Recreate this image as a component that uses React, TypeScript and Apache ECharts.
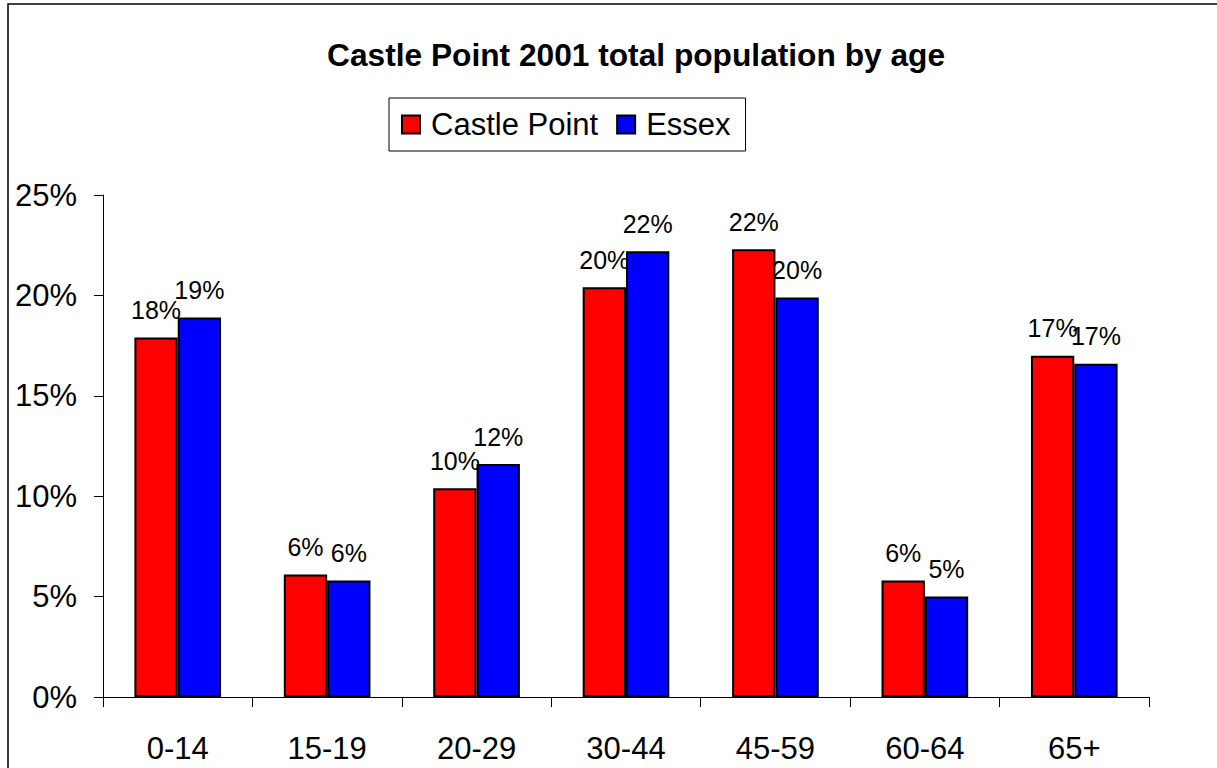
import React, { useEffect, useRef } from "react";
import * as echarts from "echarts";

const categories = ["0-14", "15-19", "20-29", "30-44", "45-59", "60-64", "65+"];
const castlePoint = [17.9, 6.1, 10.4, 20.4, 22.3, 5.8, 17.0];
const essex = [18.9, 5.8, 11.6, 22.2, 19.9, 5.0, 16.6];
const seriesNames = ["Castle Point", "Essex"];
const seriesColors = ["#ff0000", "#0000ff"];
const titleText = "Castle Point 2001 total population by age";

const FONT = "Arial, 'Liberation Sans', sans-serif";

export default function App() {
  const ref = useRef<HTMLDivElement>(null);
  useEffect(() => {
    if (!ref.current) return;
    const chart = echarts.init(ref.current, null, { renderer: "svg" });
    const mkSeries = (name: string, data: number[], color: string) => ({
      name,
      type: "bar",
      data,
      barGap: "0%",
      barCategoryGap: "42%",
      itemStyle: { color, borderColor: "#000", borderWidth: 2 },
      label: {
        show: true,
        position: "top",
        distance: 15,
        color: "#000",
        fontFamily: FONT,
        fontSize: 25,
        formatter: (p: any) => Math.round(p.value) + "%",
      },
    });
    chart.setOption({
      animation: false,
      backgroundColor: "#fff",
      title: {
        text: titleText,
        left: 327,
        top: 39,
        padding: 0,
        textStyle: { fontFamily: FONT, fontSize: 31.7, fontWeight: "bold", color: "#000" },
      },
      legend: {
        left: 389,
        top: 98,
        orient: "horizontal",
        padding: [11, 15, 11, 12],
        borderColor: "#000",
        borderWidth: 1,
        itemWidth: 18,
        itemHeight: 18,
        itemGap: 18,
        icon: "rect",
        data: seriesNames,
        textStyle: { fontFamily: FONT, fontSize: 31, color: "#000", padding: [0, 0, 0, 6] },
      },
      grid: { left: 103, right: 68, top: 195, bottom: 71, containLabel: false },
      xAxis: {
        type: "category",
        data: categories,
        axisLine: { lineStyle: { color: "#000", width: 1 } },
        axisTick: { show: true, length: 10, lineStyle: { color: "#000" } },
        axisLabel: { color: "#000", fontFamily: FONT, fontSize: 31, margin: 36 },
      },
      yAxis: {
        type: "value",
        min: 0,
        max: 25,
        interval: 5,
        splitLine: { show: false },
        axisLine: { show: true, lineStyle: { color: "#000", width: 1 } },
        axisTick: { show: true, length: 9, lineStyle: { color: "#000" } },
        axisLabel: {
          color: "#000",
          fontFamily: FONT,
          fontSize: 31,
          margin: 26,
          formatter: "{value}%",
        },
      },
      graphic: [
        {
          type: "rect",
          shape: { x: 8, y: 4, width: 1400, height: 1000 },
          style: { fill: "none", stroke: "#000", lineWidth: 1.5 },
          silent: true,
          z: 100,
        },
      ],
      series: [
        mkSeries(seriesNames[0], castlePoint, seriesColors[0]),
        mkSeries(seriesNames[1], essex, seriesColors[1]),
      ],
    });
    return () => chart.dispose();
  }, []);
  return (
    <div
      ref={ref}
      style={{ position: "fixed", left: 0, top: 0, width: 1217, height: 768 }}
    />
  );
}
